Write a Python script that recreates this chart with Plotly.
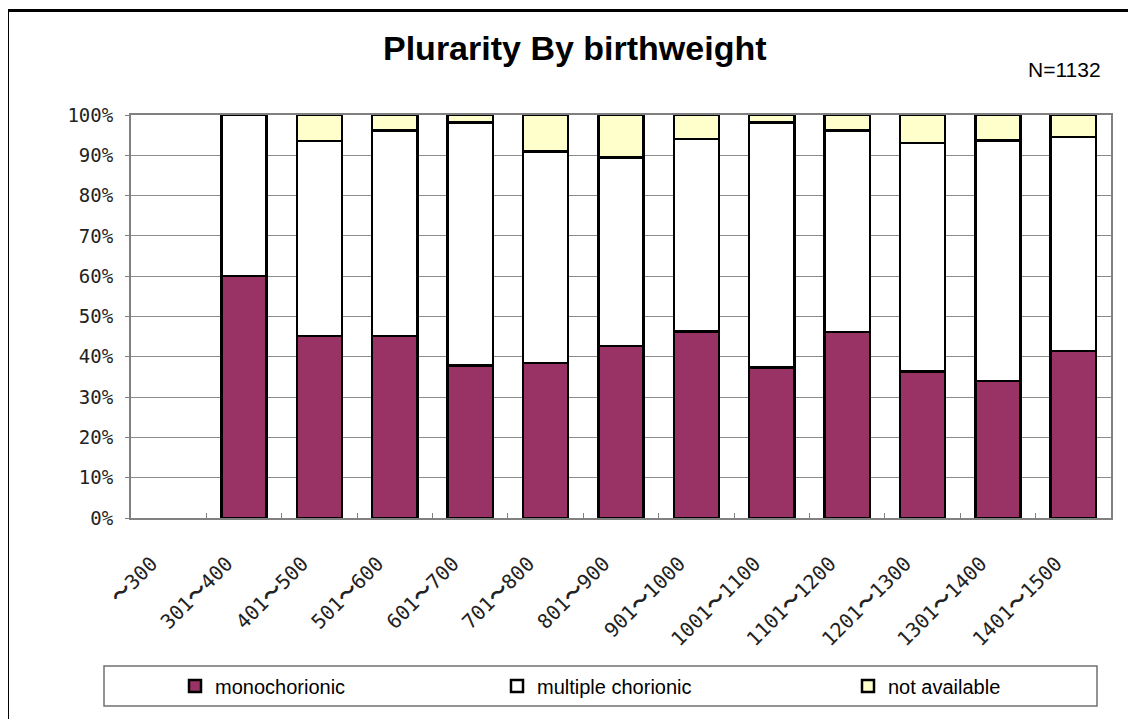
import plotly.graph_objects as go

categories = ["〜300", "301〜400", "401〜500", "501〜600", "601〜700", "701〜800",
              "801〜900", "901〜1000", "1001〜1100", "1101〜1200", "1201〜1300",
              "1301〜1400", "1401〜1500"]
monochorionic = [None, 60.0, 45.2, 45.2, 37.9, 38.5, 42.7, 46.3, 37.3, 46.2, 36.4, 34.0, 41.5]
multiple_chorionic = [None, 40.0, 48.3, 50.9, 60.2, 52.4, 46.7, 47.8, 60.9, 50.0, 56.6, 59.7, 53.0]
not_available = [None, 0.0, 6.5, 3.9, 1.9, 9.1, 10.6, 5.9, 1.8, 3.8, 7.0, 6.3, 5.5]
y_ticks = list(range(0, 101, 10))
y_tick_labels = [f"{v}%" for v in y_ticks]

# page body adds an 8px margin, so the figure is drawn 8px smaller
OFF = 8
W, H = 1136, 719
L, R, T, B = 131, 1111, 115, 518


def px(x):
    return (x - L) / (R - L)


def py(y):
    return (B - y) / (B - T)


tilde_span = "<span style=\"font-family:'Noto Sans CJK JP';font-weight:bold\">〜</span>"
x_tick_text = [c.replace("〜", tilde_span) + "\u00a0\u00a0" for c in categories]

fig = go.Figure()
line = dict(color="black", width=2.5)
fig.add_trace(go.Bar(x=categories, y=monochorionic, name="monochorionic",
                     marker=dict(color="#993366", line=line), legend="legend"))
fig.add_trace(go.Bar(x=categories, y=multiple_chorionic, name="multiple chorionic",
                     marker=dict(color="#FFFFFF", line=line), legend="legend2"))
fig.add_trace(go.Bar(x=categories, y=not_available, name="not available",
                     marker=dict(color="#FFFFCC", line=line), legend="legend3"))

x_tick_font = dict(family="DejaVu Sans Mono, Noto Sans CJK JP", size=20, color="#222222")
y_tick_font = dict(family="DejaVu Sans Mono, Noto Sans CJK JP", size=19, color="#222222")
leg_font = dict(family="Liberation Sans, Arial", size=20, color="black")


def leg(xpix):
    return dict(orientation="h", x=px(xpix), y=py(686), xanchor="left", yanchor="middle",
                font=leg_font, itemwidth=30, bgcolor="rgba(0,0,0,0)")


fig.update_layout(
    width=W - OFF, height=H - OFF,
    margin=dict(l=L - OFF, r=W - R, t=T - OFF, b=H - B, autoexpand=False),
    barmode="stack", bargap=0.4,
    plot_bgcolor="white", paper_bgcolor="white",
    showlegend=True,
    legend=leg(175), legend2=leg(497), legend3=leg(848),
    xaxis=dict(type="category", tickangle=-45, tickfont=x_tick_font,
               tickvals=categories, ticktext=x_tick_text,
               showline=True, linecolor="#808080", linewidth=2, mirror=True,
               ticks="inside", ticklen=5, tickcolor="#808080", tickson="boundaries",
               showgrid=False, ticklabelstandoff=7),
    yaxis=dict(range=[0, 100], tickvals=y_ticks, ticktext=y_tick_labels, tickfont=y_tick_font,
               showline=True, linecolor="#808080", linewidth=2, mirror=True,
               showgrid=True, gridcolor="#8c8c8c", gridwidth=1,
               ticks="outside", ticklen=4, tickcolor="#808080", zeroline=False,
               ticklabelstandoff=8),
    shapes=[
        dict(type="rect", xref="paper", yref="paper",
             x0=px(7.5), x1=px(1150), y0=py(10.5), y1=py(740),
             line=dict(color="black", width=3)),
        dict(type="rect", xref="paper", yref="paper",
             x0=px(104), x1=px(1097), y0=py(706), y1=py(666),
             line=dict(color="#707070", width=1.5)),
    ],
    annotations=[
        dict(text="<b>Plurarity By birthweight</b>", xref="paper", yref="paper",
             x=px(575), y=py(48), xanchor="center", yanchor="middle", showarrow=False,
             font=dict(family="Liberation Sans, Arial", size=34, color="black")),
        dict(text="N=1132", xref="paper", yref="paper",
             x=px(1064), y=py(69), xanchor="center", yanchor="middle", showarrow=False,
             font=dict(family="Liberation Sans, Arial", size=21, color="black")),
    ],
)

fig.write_html("out.html")
